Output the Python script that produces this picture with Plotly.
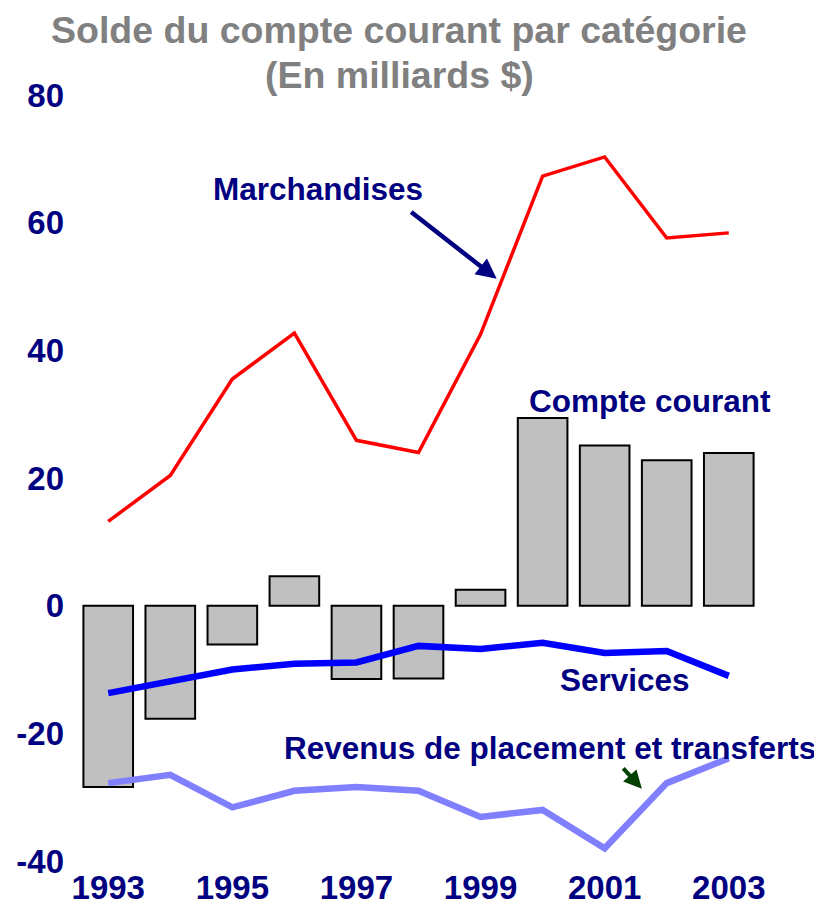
import plotly.graph_objects as go

years = [1993, 1994, 1995, 1996, 1997, 1998, 1999, 2000, 2001, 2002, 2003]
compte_courant = [-28.4, -17.7, -6.1, 4.6, -11.5, -11.4, 2.5, 29.4, 25.1, 22.8, 23.9]
marchandises = [13.2, 20.4, 35.5, 42.7, 25.9, 24.0, 42.5, 67.3, 70.3, 57.6, 58.4]
services = [-13.7, -11.8, -10.0, -9.1, -8.9, -6.3, -6.8, -5.8, -7.4, -7.1, -11.0]
revenus = [-27.8, -26.5, -31.6, -29.0, -28.4, -29.0, -33.1, -32.0, -38.0, -27.8, -23.9]
x_ticks = [1993, 1995, 1997, 1999, 2001, 2003]
y_ticks = [-40, -20, 0, 20, 40, 60, 80]
y_tick_text = ["-40", "-20", "0", "20", "40", "60", "80"]

FONT = "Liberation Sans, Arial, sans-serif"
NAVY = "#000080"

fig = go.Figure()
fig.add_trace(go.Bar(x=years, y=compte_courant, width=0.8,
                     marker=dict(color="#C0C0C0", line=dict(color="black", width=2)),
                     name="Compte courant"))
fig.add_trace(go.Scatter(x=years, y=marchandises, mode="lines",
                         line=dict(color="#FF0000", width=3.5), name="Marchandises"))
fig.add_trace(go.Scatter(x=years, y=services, mode="lines",
                         line=dict(color="#0000FF", width=6.5), name="Services"))
fig.add_trace(go.Scatter(x=years, y=revenus, mode="lines",
                         line=dict(color="#8080FF", width=6.5), name="Revenus"))

lab = dict(family=FONT, size=31.5, color=NAVY, weight="bold")
title_font = dict(family=FONT, size=37.5, color="#808080", weight="bold")
annotations = [
    dict(text="Solde du compte courant par catégorie", xref="paper", yref="paper",
         x=0.472, y=1.085, showarrow=False, xanchor="center", yanchor="middle", font=title_font),
    dict(text="(En milliards $)", xref="paper", yref="paper",
         x=0.472, y=1.026, showarrow=False, xanchor="center", yanchor="middle", font=title_font),
    dict(text="Marchandises", x=1996.38, y=65.3, showarrow=False, font=lab),
    dict(text="Compte courant", x=2001.73, y=32.0, showarrow=False, font=lab),
    dict(text="Services", x=2001.33, y=-11.6, showarrow=False, font=lab),
    dict(text="Revenus de placement et transferts", x=2000.12, y=-22.3, showarrow=False, font=lab),
    dict(text="", x=1999.26, y=51.2, ax=-87, ay=-68, showarrow=True,
         arrowhead=2, arrowsize=0.9, arrowwidth=4.5, arrowcolor=NAVY),
    dict(text="", x=2001.6, y=-28.7, ax=-20, ay=-22, showarrow=True,
         arrowhead=2, arrowsize=0.9, arrowwidth=4, arrowcolor="#004000"),
]

fig.update_layout(
    width=814, height=901,
    margin=dict(l=63, r=56, t=87, b=48),
    paper_bgcolor="white", plot_bgcolor="white",
    showlegend=False,
    bargap=0.2,
    annotations=annotations,
    xaxis=dict(range=[1992.4, 2003.6], tickvals=x_ticks, showgrid=False, zeroline=False,
               showline=False, ticks="", automargin=False, ticklabelstandoff=4,
               tickfont=dict(family=FONT, size=33, color=NAVY, weight="bold")),
    yaxis=dict(range=[-40, 80], tickvals=y_ticks, ticktext=y_tick_text, showgrid=False,
               zeroline=False, showline=False, ticks="", automargin=False, ticklabelstandoff=6,
               tickfont=dict(family=FONT, size=33, color=NAVY, weight="bold")),
)

fig.write_html("out.html")
